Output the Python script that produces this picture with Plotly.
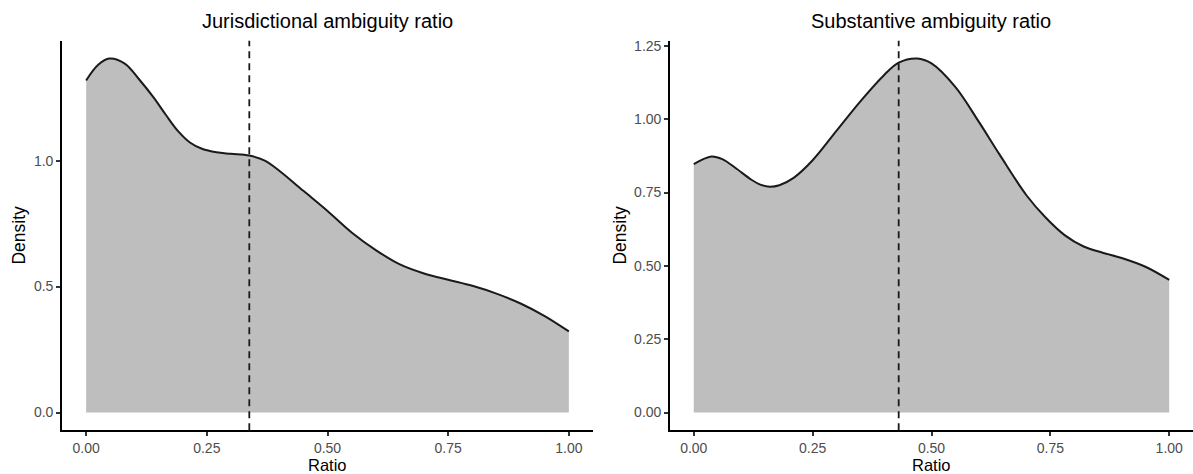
import plotly.graph_objects as go

# ---- data ----
jur_x = [0.00, 0.025, 0.048, 0.08, 0.110, 0.14, 0.165, 0.19, 0.215, 0.24, 0.27, 0.30, 0.338, 0.37,
         0.40, 0.45, 0.50, 0.55, 0.60, 0.65, 0.70, 0.75, 0.80, 0.85, 0.90, 0.95, 1.00]
jur_y = [1.318, 1.38, 1.405, 1.385, 1.322, 1.25, 1.182, 1.118, 1.072, 1.047, 1.033, 1.027, 1.020, 1.00,
         0.96, 0.88, 0.80, 0.715, 0.645, 0.588, 0.552, 0.527, 0.503, 0.472, 0.433, 0.383, 0.322]
jur_mean = 0.338

sub_x = [0.00, 0.037, 0.06, 0.09, 0.12, 0.14, 0.16, 0.18, 0.21, 0.25, 0.30, 0.35, 0.40, 0.431, 0.47,
         0.50, 0.55, 0.60, 0.643, 0.70, 0.74, 0.78, 0.82, 0.86, 0.90, 0.95, 1.00]
sub_y = [0.847, 0.873, 0.864, 0.831, 0.795, 0.777, 0.770, 0.775, 0.80, 0.86, 0.96, 1.06, 1.15, 1.193, 1.207,
         1.19, 1.11, 0.99, 0.88, 0.74, 0.665, 0.605, 0.566, 0.545, 0.527, 0.497, 0.452]
sub_mean = 0.431

titles = ["Jurisdictional ambiguity ratio", "Substantive ambiguity ratio"]
x_ticks = [0.00, 0.25, 0.50, 0.75, 1.00]
jur_yticks = [0.0, 0.5, 1.0]
sub_yticks = [0.00, 0.25, 0.50, 0.75, 1.00, 1.25]

FONT = "Liberation Sans, Arial, sans-serif"
W, H = 1193, 474
FILL = "#BEBEBE"

fig = go.Figure()
fig.add_trace(go.Scatter(x=jur_x, y=jur_y, mode="lines", fill="tozeroy", fillcolor=FILL,
                         line=dict(color="#1a1a1a", width=2, shape="spline", smoothing=1.0),
                         xaxis="x", yaxis="y", showlegend=False, hoverinfo="skip"))
fig.add_trace(go.Scatter(x=sub_x, y=sub_y, mode="lines", fill="tozeroy", fillcolor=FILL,
                         line=dict(color="#1a1a1a", width=2, shape="spline", smoothing=1.0),
                         xaxis="x2", yaxis="y2", showlegend=False, hoverinfo="skip"))

ydom = [1 - 430 / H, 1 - 38 / H]
left_dom = [62 / W, 593 / W]
right_dom = [670 / W, 1.0]

def xax(dom, anchor):
    return dict(domain=dom, anchor=anchor, range=[-0.05, 1.05], tickvals=x_ticks,
                ticktext=[f"{v:.2f}" for v in x_ticks], showgrid=False, zeroline=False,
                showline=True, linecolor="black", linewidth=1.7, ticks="outside", ticklen=4,
                tickwidth=1.5, tickcolor="#333333",
                tickfont=dict(family=FONT, size=14, color="#4D4D4D"), fixedrange=True)

def yax(rng, ticks, fmt, anchor):
    return dict(domain=ydom, anchor=anchor, range=rng, tickvals=ticks,
                ticktext=[fmt.format(v) for v in ticks], showgrid=False, zeroline=False,
                showline=True, linecolor="black", linewidth=1.7, ticks="outside", ticklen=4,
                tickwidth=1.5, tickcolor="#333333",
                tickfont=dict(family=FONT, size=14, color="#4D4D4D"), fixedrange=True)

fig.update_layout(
    width=W, height=H, margin=dict(l=0, r=0, t=0, b=0),
    paper_bgcolor="white", plot_bgcolor="white",
    xaxis=xax(left_dom, "y"), yaxis=yax([-0.0703, 1.4757], jur_yticks, "{:.1f}", "x"),
    xaxis2=xax(right_dom, "y2"), yaxis2=yax([-0.0604, 1.2674], sub_yticks, "{:.2f}", "x2"),
)

# dashed vertical lines at the means
for xref, m in (("x", jur_mean), ("x2", sub_mean)):
    fig.add_shape(type="line", xref=xref, yref=("y domain" if xref == "x" else "y2 domain"),
                  x0=m, x1=m, y0=0, y1=1,
                  line=dict(color="#1a1a1a", width=1.8, dash="7px,5px"))

# titles and axis titles
centers = [(left_dom[0] + left_dom[1]) / 2, (right_dom[0] + right_dom[1]) / 2]
for c, t in zip(centers, titles):
    fig.add_annotation(text=t, x=c, y=1 - 18 / H, xref="paper", yref="paper",
                       showarrow=False, xanchor="center", yanchor="middle",
                       font=dict(family=FONT, size=20, color="black"))
    fig.add_annotation(text="Ratio", x=c, y=0, xref="paper", yref="paper",
                       showarrow=False, xanchor="center", yanchor="bottom", yshift=-2,
                       font=dict(family=FONT, size=16.5, color="black"))
for xp in (19 / W, 620 / W):
    fig.add_annotation(text="Density", x=xp, y=1 - 234 / H, xref="paper", yref="paper",
                       showarrow=False, xanchor="center", yanchor="middle", textangle=-90,
                       font=dict(family=FONT, size=17.5, color="black"))

fig.write_html("out.html")
